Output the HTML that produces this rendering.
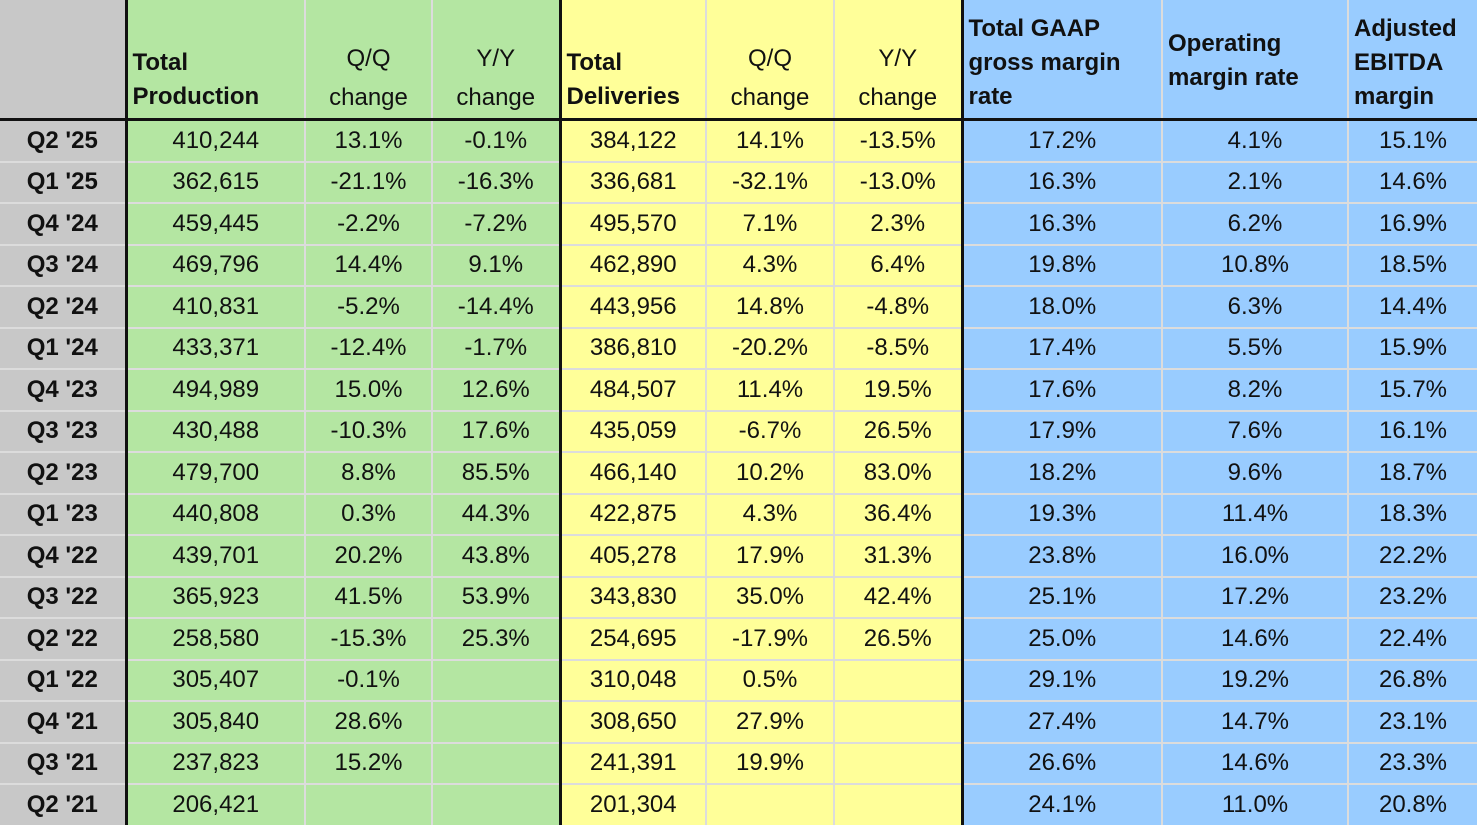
<!DOCTYPE html>
<html><head><meta charset="utf-8"><style>
html,body{margin:0;padding:0;background:#fff;width:1477px;height:825px;overflow:hidden}
table{border-collapse:collapse;table-layout:fixed;width:1477px;font-family:"Liberation Sans",Arial,sans-serif;font-size:24px;color:#111}
td{padding:0;border:2px solid #dcdcdc;text-align:center;vertical-align:middle;height:39.5px;line-height:38px;white-space:nowrap;overflow:hidden}
tr.h td{height:114px;border-top:none;border-bottom:3px solid #111;vertical-align:bottom;line-height:34px;padding-bottom:4px}
td.l{background:#c8c8c8;font-weight:bold;border-right:3px solid #111}
.g{background:#b4e6a2}.y{background:#ffff99}.b{background:#99ccff}
td.dl{border-left:3px solid #111}
tr.h td.bl{font-weight:bold;text-align:left;padding-left:5px}
tr.h td.q{line-height:39px;padding-bottom:1px}
tr.h td.mid{vertical-align:middle;padding-bottom:0;padding-top:4px}
tr td:first-child{border-left:none}
tr td:last-child{border-right:none}
</style></head><body>
<table>
<colgroup><col style="width:126px"><col style="width:179px"><col style="width:127px"><col style="width:128px"><col style="width:146px"><col style="width:128px"><col style="width:128px"><col style="width:200px"><col style="width:186px"><col style="width:129px"></colgroup>
<tr class="h"><td class="l"></td><td class="g bl">Total<br>Production</td><td class="g q">Q/Q<br>change</td><td class="g q">Y/Y<br>change</td><td class="y bl dl">Total<br>Deliveries</td><td class="y q">Q/Q<br>change</td><td class="y q">Y/Y<br>change</td><td class="b bl dl">Total GAAP<br>gross margin<br>rate</td><td class="b bl mid">Operating<br>margin rate</td><td class="b bl">Adjusted<br>EBITDA<br>margin</td></tr>
<tr><td class="l">Q2 '25</td><td class="g">410,244</td><td class="g">13.1%</td><td class="g">-0.1%</td><td class="y dl">384,122</td><td class="y">14.1%</td><td class="y">-13.5%</td><td class="b dl">17.2%</td><td class="b">4.1%</td><td class="b">15.1%</td></tr>
<tr><td class="l">Q1 '25</td><td class="g">362,615</td><td class="g">-21.1%</td><td class="g">-16.3%</td><td class="y dl">336,681</td><td class="y">-32.1%</td><td class="y">-13.0%</td><td class="b dl">16.3%</td><td class="b">2.1%</td><td class="b">14.6%</td></tr>
<tr><td class="l">Q4 '24</td><td class="g">459,445</td><td class="g">-2.2%</td><td class="g">-7.2%</td><td class="y dl">495,570</td><td class="y">7.1%</td><td class="y">2.3%</td><td class="b dl">16.3%</td><td class="b">6.2%</td><td class="b">16.9%</td></tr>
<tr><td class="l">Q3 '24</td><td class="g">469,796</td><td class="g">14.4%</td><td class="g">9.1%</td><td class="y dl">462,890</td><td class="y">4.3%</td><td class="y">6.4%</td><td class="b dl">19.8%</td><td class="b">10.8%</td><td class="b">18.5%</td></tr>
<tr><td class="l">Q2 '24</td><td class="g">410,831</td><td class="g">-5.2%</td><td class="g">-14.4%</td><td class="y dl">443,956</td><td class="y">14.8%</td><td class="y">-4.8%</td><td class="b dl">18.0%</td><td class="b">6.3%</td><td class="b">14.4%</td></tr>
<tr><td class="l">Q1 '24</td><td class="g">433,371</td><td class="g">-12.4%</td><td class="g">-1.7%</td><td class="y dl">386,810</td><td class="y">-20.2%</td><td class="y">-8.5%</td><td class="b dl">17.4%</td><td class="b">5.5%</td><td class="b">15.9%</td></tr>
<tr><td class="l">Q4 '23</td><td class="g">494,989</td><td class="g">15.0%</td><td class="g">12.6%</td><td class="y dl">484,507</td><td class="y">11.4%</td><td class="y">19.5%</td><td class="b dl">17.6%</td><td class="b">8.2%</td><td class="b">15.7%</td></tr>
<tr><td class="l">Q3 '23</td><td class="g">430,488</td><td class="g">-10.3%</td><td class="g">17.6%</td><td class="y dl">435,059</td><td class="y">-6.7%</td><td class="y">26.5%</td><td class="b dl">17.9%</td><td class="b">7.6%</td><td class="b">16.1%</td></tr>
<tr><td class="l">Q2 '23</td><td class="g">479,700</td><td class="g">8.8%</td><td class="g">85.5%</td><td class="y dl">466,140</td><td class="y">10.2%</td><td class="y">83.0%</td><td class="b dl">18.2%</td><td class="b">9.6%</td><td class="b">18.7%</td></tr>
<tr><td class="l">Q1 '23</td><td class="g">440,808</td><td class="g">0.3%</td><td class="g">44.3%</td><td class="y dl">422,875</td><td class="y">4.3%</td><td class="y">36.4%</td><td class="b dl">19.3%</td><td class="b">11.4%</td><td class="b">18.3%</td></tr>
<tr><td class="l">Q4 '22</td><td class="g">439,701</td><td class="g">20.2%</td><td class="g">43.8%</td><td class="y dl">405,278</td><td class="y">17.9%</td><td class="y">31.3%</td><td class="b dl">23.8%</td><td class="b">16.0%</td><td class="b">22.2%</td></tr>
<tr><td class="l">Q3 '22</td><td class="g">365,923</td><td class="g">41.5%</td><td class="g">53.9%</td><td class="y dl">343,830</td><td class="y">35.0%</td><td class="y">42.4%</td><td class="b dl">25.1%</td><td class="b">17.2%</td><td class="b">23.2%</td></tr>
<tr><td class="l">Q2 '22</td><td class="g">258,580</td><td class="g">-15.3%</td><td class="g">25.3%</td><td class="y dl">254,695</td><td class="y">-17.9%</td><td class="y">26.5%</td><td class="b dl">25.0%</td><td class="b">14.6%</td><td class="b">22.4%</td></tr>
<tr><td class="l">Q1 '22</td><td class="g">305,407</td><td class="g">-0.1%</td><td class="g"></td><td class="y dl">310,048</td><td class="y">0.5%</td><td class="y"></td><td class="b dl">29.1%</td><td class="b">19.2%</td><td class="b">26.8%</td></tr>
<tr><td class="l">Q4 '21</td><td class="g">305,840</td><td class="g">28.6%</td><td class="g"></td><td class="y dl">308,650</td><td class="y">27.9%</td><td class="y"></td><td class="b dl">27.4%</td><td class="b">14.7%</td><td class="b">23.1%</td></tr>
<tr><td class="l">Q3 '21</td><td class="g">237,823</td><td class="g">15.2%</td><td class="g"></td><td class="y dl">241,391</td><td class="y">19.9%</td><td class="y"></td><td class="b dl">26.6%</td><td class="b">14.6%</td><td class="b">23.3%</td></tr>
<tr><td class="l">Q2 '21</td><td class="g">206,421</td><td class="g"></td><td class="g"></td><td class="y dl">201,304</td><td class="y"></td><td class="y"></td><td class="b dl">24.1%</td><td class="b">11.0%</td><td class="b">20.8%</td></tr>
</table>
</body></html>
